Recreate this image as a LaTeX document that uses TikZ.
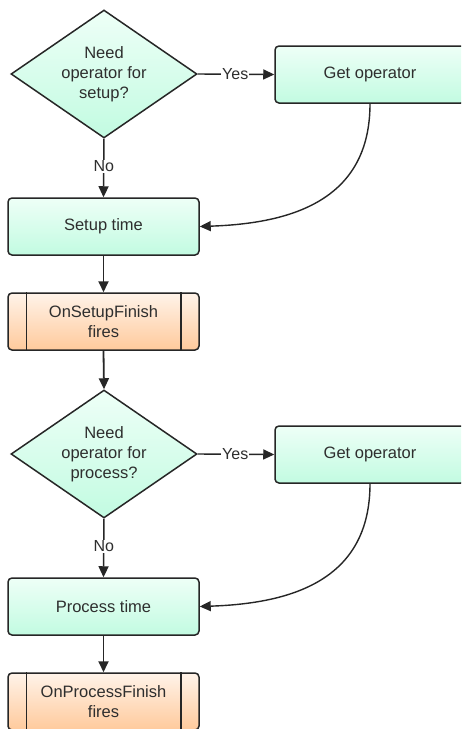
\documentclass[tikz,border=0pt]{standalone}
\usepackage{fontspec}
\setmainfont{Liberation Sans}
\usetikzlibrary{shapes.geometric,arrows.meta}
\definecolor{ink}{HTML}{262626}
\definecolor{txt}{HTML}{2E2E2E}
\definecolor{mintTop}{HTML}{EEFFF7}
\definecolor{mintBot}{HTML}{C2FBE1}
\definecolor{peachTop}{HTML}{FFF3E9}
\definecolor{peachBot}{HTML}{FFCA9C}
\tikzset{
  lbl/.style={font=\fontsize{16}{19}\selectfont, text=txt},
  procbox/.style={draw=ink, line width=1.5pt, rounded corners=4pt,
    top color=mintTop, bottom color=mintBot, text=txt,
    minimum width=191pt, minimum height=57pt, inner sep=0pt,
    align=center, font=\fontsize{16.5}{20}\selectfont},
  eventbox/.style={procbox, top color=peachTop, bottom color=peachBot},
  decision/.style={diamond, draw=ink, line width=1.5pt, aspect=1.45,
    top color=mintTop, bottom color=mintBot, text=txt, inner sep=0pt,
    minimum width=186pt, minimum height=128pt,
    align=center, font=\fontsize{16.5}{20}\selectfont},
  flow/.style={draw=ink, line width=1.8pt, -{Triangle[length=11pt,width=10pt]}},
  thinflow/.style={draw=ink, line width=1.4pt, -{Triangle[length=11pt,width=10pt]}},
  cut/.style={fill=white, inner sep=1pt, lbl}
}
\newcommand{\barlines}[1]{%
  \draw[ink, line width=1.5pt] ([xshift=19pt]#1.north west) -- ([xshift=19pt]#1.south west);
  \draw[ink, line width=1.5pt] ([xshift=-19pt]#1.north east) -- ([xshift=-19pt]#1.south east);
}
\begin{document}
\begin{tikzpicture}[x=1pt,y=-1pt]
  \clip (0,0) rectangle (461,729);
  \fill[white] (0,0) rectangle (461,729);

  % setup stage
  \node[decision] (q1) at (104,74) {Need\\operator for\\setup?};
  \node[procbox, minimum width=190pt] (g1) at (370,74.5) {Get operator};
  \node[procbox] (s1) at (103.5,226.5) {Setup time};
  \node[eventbox] (e1) at (103.5,321.5) {OnSetupFinish\\fires};
  \barlines{e1}

  % process stage
  \node[decision] (q2) at (104,454) {Need\\operator for\\process?};
  \node[procbox, minimum width=190pt] (g2) at (370,454.5) {Get operator};
  \node[procbox] (s2) at (103.5,606.5) {Process time};
  \node[eventbox] (e2) at (103.5,701.5) {OnProcessFinish\\fires};
  \barlines{e2}

  % connectors
  \draw[thinflow] (q1.east) -- node[cut, pos=0.49] {Yes} (g1.west);
  \draw[flow, line width=1.5pt] (q1.south) -- node[cut, pos=0.47] {No} (s1.north);
  \draw[thinflow] (g1.south) .. controls +(0,97) and +(91,-3) .. (s1.east);
  \draw[flow] (s1.south) -- (e1.north);
  \draw[flow] (e1.south) -- (q2.north);

  \draw[thinflow] (q2.east) -- node[cut, pos=0.49] {Yes} (g2.west);
  \draw[flow, line width=1.5pt] (q2.south) -- node[cut, pos=0.47] {No} (s2.north);
  \draw[thinflow] (g2.south) .. controls +(0,97) and +(91,-3) .. (s2.east);
  \draw[flow] (s2.south) -- (e2.north);
\end{tikzpicture}
\end{document}
